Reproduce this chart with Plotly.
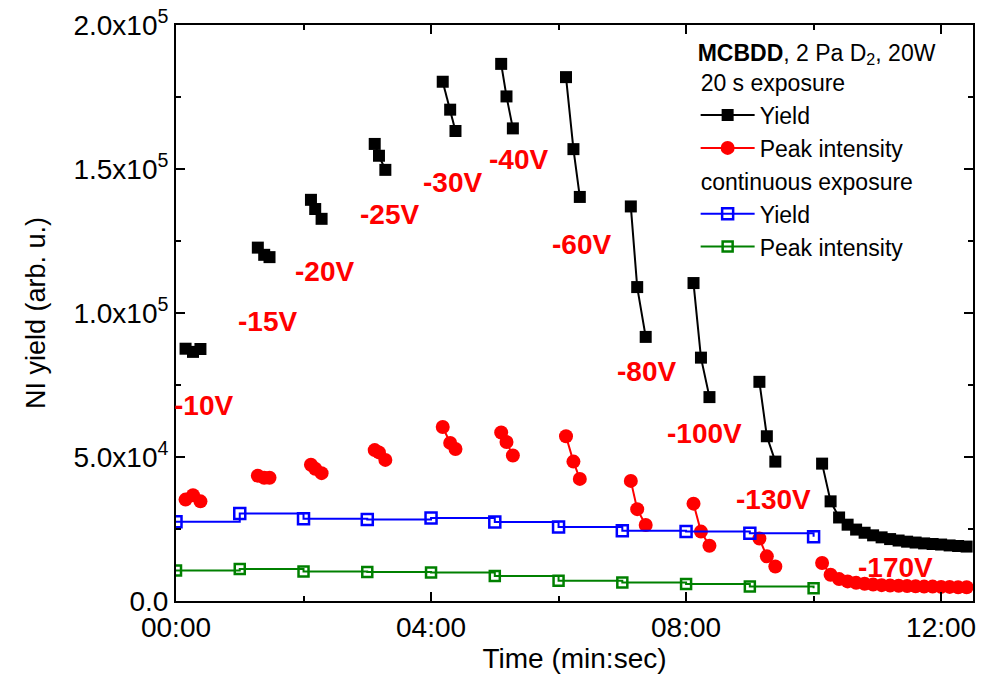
import plotly.graph_objects as go

# ---- data (time in seconds, values in arbitrary units) ----
voltages = ["-10V", "-15V", "-20V", "-25V", "-30V", "-40V", "-60V", "-80V", "-100V", "-130V", "-170V"]

pulse_times = [
    [9, 16, 23],
    [77, 83, 88],
    [127, 131, 137],
    [187, 191, 197],
    [251, 258, 263],
    [306, 311, 317],
    [367, 374, 380],
    [428, 434, 442],
    [487, 494, 502],
    [549, 556, 564],
    [608, 616, 624, 632, 640, 648, 656, 664, 672, 680, 688, 696, 704, 712, 720, 728, 736, 744],
]

pulse_yield = [
    [87600, 86500, 87500],
    [122700, 120200, 119400],
    [139300, 136100, 132700],
    [158700, 154600, 149700],
    [180300, 170600, 163200],
    [186500, 175200, 164100],
    [181900, 156900, 140300],
    [137000, 109000, 91700],
    [110400, 84500, 70800],
    [76100, 57200, 48400],
    [47700, 34600, 29000, 26500, 24800, 23700, 22800, 22100, 21500, 21000,
     20600, 20300, 20000, 19800, 19600, 19300, 19100, 18900],
]

pulse_peak = [
    [35200, 36700, 34600],
    [43500, 42800, 42800],
    [47300, 45900, 44400],
    [52400, 51600, 49000],
    [60400, 54900, 52800],
    [58500, 55200, 50500],
    [57200, 48400, 42400],
    [41700, 31900, 26400],
    [33800, 24100, 19200],
    [21700, 15500, 12000],
    [13200, 9100, 7600, 6800, 6300, 6000, 5700, 5500, 5400, 5300,
     5200, 5100, 5000, 5000, 4900, 4900, 4800, 4800],
]

cont_times = [0, 60, 120, 180, 240, 300, 360, 420, 480, 540, 600]
cont_yield = [27500, 30400, 28600, 28300, 28800, 27400, 25700, 24400, 24100, 23500, 22300]
cont_peak = [10600, 11100, 10200, 10100, 9900, 8700, 7000, 6400, 5900, 5000, 4400]

# voltage label positions (time s, value)
label_x = [26, 86, 140, 201, 260, 322, 382, 443, 497, 562, 677]
label_y = [67800, 97100, 114400, 134200, 145300, 153200, 123700, 79700, 58300, 35200, 11500]

x_tickvals = [0, 240, 480, 720]
x_ticktext = ["00:00", "04:00", "08:00", "12:00"]
x_minor = [120, 360, 600]
y_tickvals = [0, 50000, 100000, 150000, 200000]
y_ticktext = ["0.0", "5.0x10<sup>4</sup>", "1.0x10<sup>5</sup>", "1.5x10<sup>5</sup>", "2.0x10<sup>5</sup>"]
y_minor = [25000, 75000, 125000, 175000]


def with_gaps(groups):
    out = []
    for i, g in enumerate(groups):
        if i:
            out.append(None)
        out.extend(g)
    return out


FONT = "Liberation Sans, Arial, sans-serif"
LEG = 23

fig = go.Figure()

fig.add_trace(go.Scatter(
    x=with_gaps(pulse_times), y=with_gaps(pulse_yield), mode="lines+markers",
    name="Yield", legendgroup="g1", legendgrouptitle=dict(text="20 s exposure", font=dict(size=LEG, color="black")),
    line=dict(color="black", width=2), marker=dict(symbol="square", size=12, color="black"),
    connectgaps=False,
))
fig.add_trace(go.Scatter(
    x=with_gaps(pulse_times), y=with_gaps(pulse_peak), mode="lines+markers",
    name="Peak intensity", legendgroup="g1",
    line=dict(color="#ff0000", width=2), marker=dict(symbol="circle", size=14, color="#ff0000"),
    connectgaps=False,
))
fig.add_trace(go.Scatter(
    x=cont_times, y=cont_yield, mode="lines+markers",
    name="Yield", legendgroup="g2", legendgrouptitle=dict(text="continuous exposure", font=dict(size=LEG, color="black")),
    line=dict(color="#0000ff", width=2, shape="hv"),
    marker=dict(symbol="square-open", size=11, color="#0000ff", line=dict(width=2.5)),
))
fig.add_trace(go.Scatter(
    x=cont_times, y=cont_peak, mode="lines+markers",
    name="Peak intensity", legendgroup="g2",
    line=dict(color="#008000", width=2, shape="hv"),
    marker=dict(symbol="square-open", size=10, color="#008000", line=dict(width=2.5)),
))

for txt, lx, ly in zip(voltages, label_x, label_y):
    fig.add_annotation(x=lx, y=ly, text="<b>%s</b>" % txt, showarrow=False,
                       font=dict(family=FONT, size=28, color="#ff0000"),
                       xanchor="center", yanchor="middle")

axis_common = dict(
    showline=True, linecolor="black", linewidth=2, mirror="ticks",
    ticks="inside", ticklen=9, tickwidth=2, tickcolor="black",
    showgrid=False, zeroline=False, automargin=False,
    tickfont=dict(family=FONT, size=28, color="black"),
    ticklabeloverflow="allow",
)

fig.update_xaxes(
    range=[0, 750], tickmode="array", tickvals=x_tickvals, ticktext=x_ticktext,
    minor=dict(tickmode="array", tickvals=x_minor, ticks="inside", ticklen=5, tickwidth=2, tickcolor="black"),
    title=dict(text="Time (min:sec)", font=dict(family=FONT, size=28, color="black"), standoff=4),
    **axis_common,
)
fig.update_yaxes(
    range=[0, 200000], tickmode="array", tickvals=y_tickvals, ticktext=y_ticktext,
    minor=dict(tickmode="array", tickvals=y_minor, ticks="inside", ticklen=5, tickwidth=2, tickcolor="black"),
    title=dict(text="NI yield (arb. u.)", font=dict(family=FONT, size=27, color="black"), standoff=20),
    **axis_common,
)

fig.update_layout(
    width=983, height=678,
    margin=dict(l=176, r=10, t=25, b=77),
    paper_bgcolor="white", plot_bgcolor="white",
    font=dict(family=FONT, size=LEG, color="black"),
    showlegend=True,
    legend=dict(
        x=0.652, y=0.99, xanchor="left", yanchor="top",
        bgcolor="rgba(0,0,0,0)", borderwidth=0,
        title=dict(text="<b>MCBDD</b>, 2 Pa D<sub>2</sub>, 20W", font=dict(size=LEG, color="black")),
        font=dict(family=FONT, size=LEG, color="black"),
        tracegroupgap=0, itemsizing="trace", itemwidth=54,
    ),
)

# remove the default page margin so the figure fills the 983x678 window exactly
fig.write_html("out.html", config={"displayModeBar": False},
               post_script="document.body.style.margin='0px';")
